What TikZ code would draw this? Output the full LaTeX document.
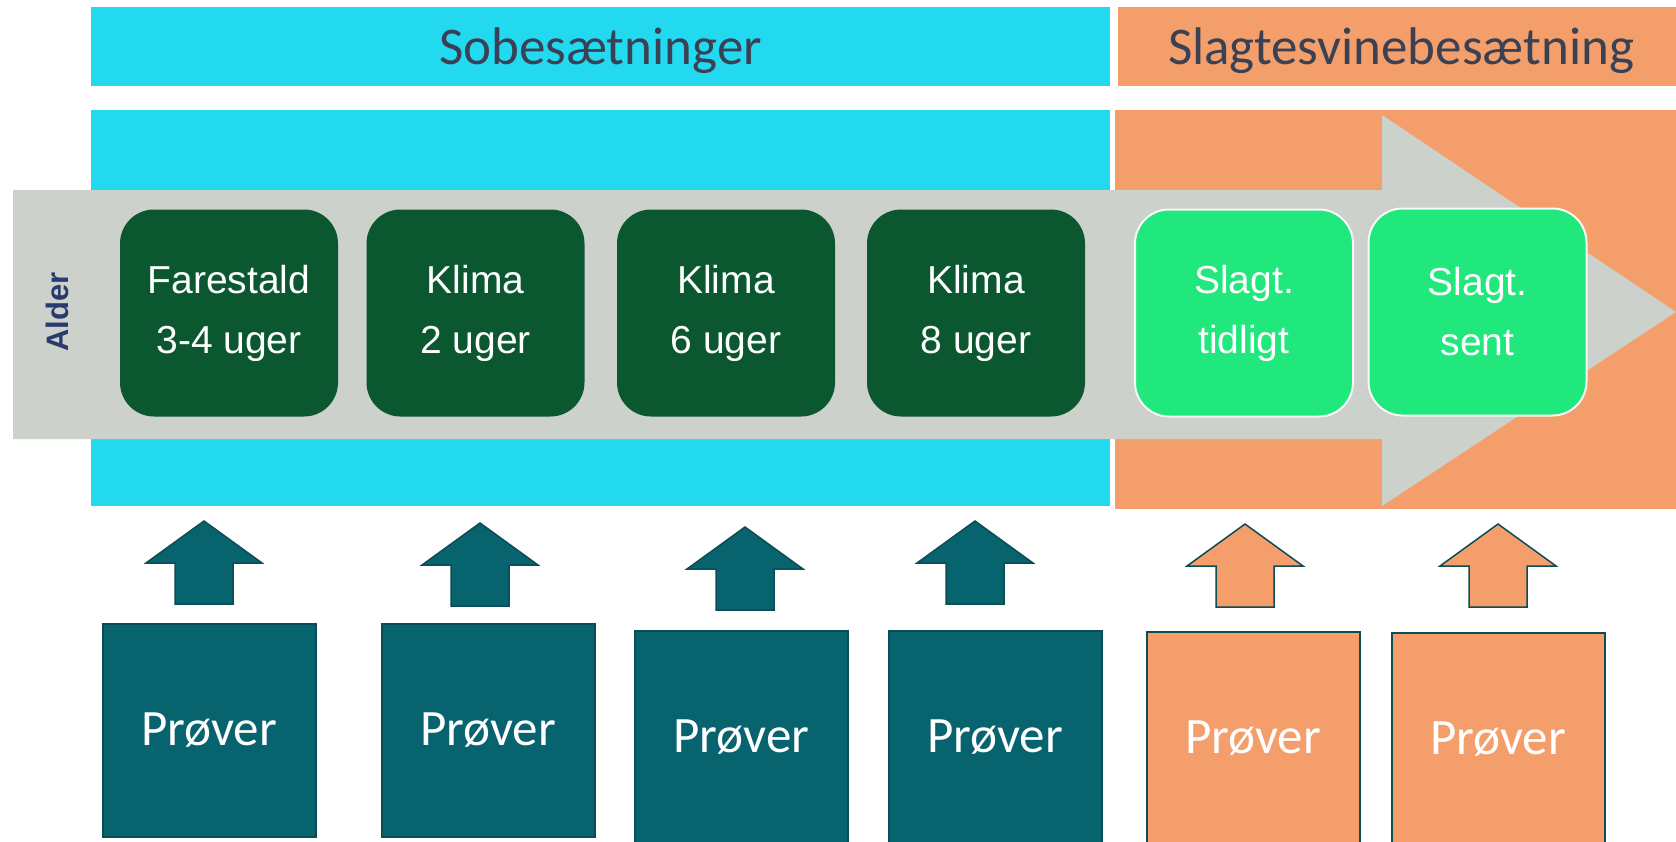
\documentclass[tikz,border=0pt]{standalone}
\usepackage{fontspec}
\setmainfont{Carlito}
\newfontfamily\arialfont{Liberation Sans}

\definecolor{sobcyan}{HTML}{23D9F0}
\definecolor{slagorange}{HTML}{F49F6B}
\definecolor{agegray}{HTML}{CCD1CC}
\definecolor{stagedark}{HTML}{0B572F}
\definecolor{stagelight}{HTML}{20E87C}
\definecolor{probeteal}{HTML}{07646F}
\definecolor{probeedge}{HTML}{0B4C55}
\definecolor{headtext}{HTML}{3A4155}
\definecolor{agetext}{HTML}{283B6C}

\begin{document}
\begin{tikzpicture}[
            x=0.5pt, y=-0.5pt,
            header/.style={anchor=base, text=headtext, font=\fontsize{26.5}{30}\selectfont},
            stage/.style={rounded corners=17pt, minimum width=109pt, minimum height=103.5pt,
                align=center, text=white, font=\arialfont\fontsize{19.5}{30}\selectfont},
            sobstage/.style={stage, fill=stagedark},
            slagstage/.style={stage, fill=stagelight, draw=white!85!agegray, line width=1pt},
            proeve/.style={draw=probeedge, line width=1pt, minimum width=106.5pt,
                minimum height=106.5pt, text=white, font=\fontsize{25.5}{30}\selectfont},
            uparrow/.pic={\path[pic actions] (-29,0) -- (-29,-41) -- (-58,-41) -- (0,-83)
                -- (58,-41) -- (29,-41) -- (29,0) -- cycle;}
        ]
            \useasboundingbox (0,0) rectangle (1676,841);
            \clip (0,0) rectangle (1676,841);

            % Bands
            \fill[sobcyan] (91,7) rectangle (1110,86);
            \fill[slagorange] (1118,7) rectangle (1676,86);
            \fill[sobcyan] (91,110) rectangle (1110,506);
            \fill[slagorange] (1115,110) rectangle (1676,509);
            \node[header] (sob) at (600.5,64) {Sobesætninger};
            \node[header] (slag) at (1401,64) {Slagtesvinebesætning};

            % Age arrow
            \fill[agegray] (13,190) -- (1382,190) -- (1382,115) -- (1676,312)
                -- (1382,506) -- (1382,439) -- (13,439) -- cycle;
            \node[rotate=90, text=agetext, font=\arialfont\bfseries\fontsize{15.5}{18}\selectfont]
                (alder) at (57,312) {Alder};

            % Stages
            \node[sobstage] (s1) at (229,313) {Farestald\\3-4 uger};
            \node[sobstage] (s2) at (475.5,313) {Klima\\2 uger};
            \node[sobstage] (s3) at (726,313) {Klima\\6 uger};
            \node[sobstage] (s4) at (976,313) {Klima\\8 uger};
            \node[slagstage] (s5) at (1244,313) {Slagt.\\tidligt};
            \node[slagstage] (s6) at (1477.5,312) {Slagt.\\sent};

            % Samples
            \pic[fill=probeteal, draw=probeedge, line width=0.75pt] at (204,604) {uparrow};
            \pic[fill=probeteal, draw=probeedge, line width=0.75pt] at (480,606) {uparrow};
            \pic[fill=probeteal, draw=probeedge, line width=0.75pt] at (745,610) {uparrow};
            \pic[fill=probeteal, draw=probeedge, line width=0.75pt] at (975,604) {uparrow};
            \pic[fill=slagorange, draw=probeedge, line width=0.75pt] at (1245,607) {uparrow};
            \pic[fill=slagorange, draw=probeedge, line width=0.75pt] at (1498,607) {uparrow};

            \node[proeve, fill=probeteal] (p1) at (209,730.5) {Prøver};
            \node[proeve, fill=probeteal] (p2) at (488,730.5) {Prøver};
            \node[proeve, fill=probeteal] (p3) at (741.5,737.5) {Prøver};
            \node[proeve, fill=probeteal] (p4) at (995,737.5) {Prøver};
            \node[proeve, fill=slagorange] (p5) at (1253,738.5) {Prøver};
            \node[proeve, fill=slagorange] (p6) at (1498,739.5) {Prøver};
        \end{tikzpicture}
\end{document}
